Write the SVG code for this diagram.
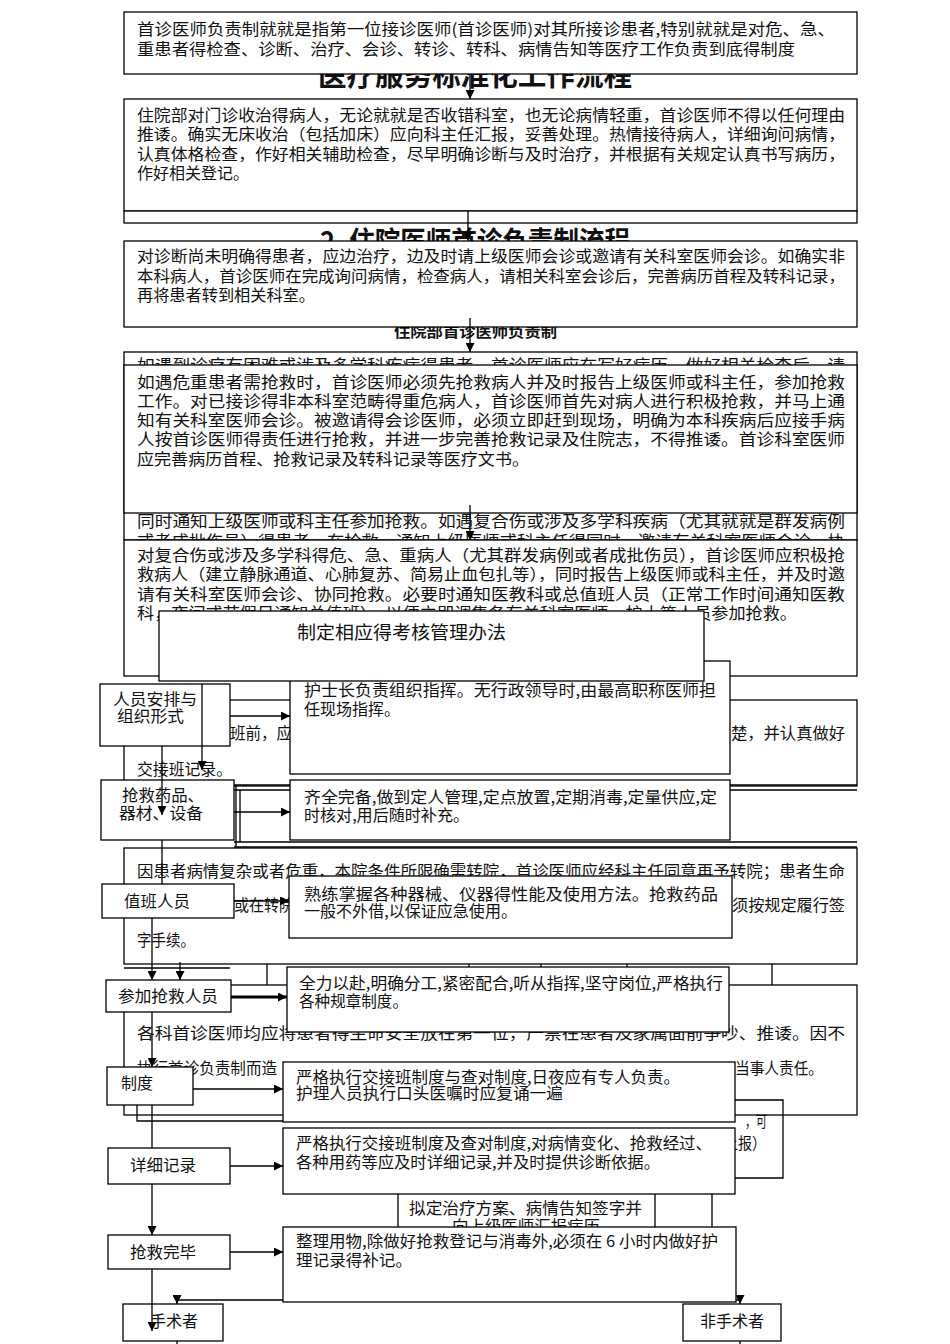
<svg xmlns="http://www.w3.org/2000/svg" width="950" height="1344" viewBox="0 0 950 1344">
<style>
rect{fill:#fff;stroke:#000;stroke-width:1.3}
.bg{fill:none}
.ln{fill:none;stroke:#000;stroke-width:1.3}
text{font-family:"Noto Sans CJK SC","Liberation Sans",sans-serif;font-size:16px;fill:#111}
.ttl{font-size:28px;font-weight:bold}
.sub{font-size:15px;font-weight:bold}
.c{stroke:#000;stroke-width:1.3;fill:none}
.thick{stroke-width:3}
</style>
<defs>
<marker id="ah" viewBox="0 0 10 10" refX="10" refY="5" markerWidth="9" markerHeight="9" markerUnits="userSpaceOnUse" orient="auto"><path d="M0,0 L10,5 L0,10 z" fill="#000"/></marker>
</defs>
<rect width="950" height="1344" style="fill:#fff;stroke:none"/>

<g id="title1"><text class="ttl" x="318" y="86" textLength="314" lengthAdjust="spacingAndGlyphs">医疗服务标准化工作流程</text></g>
<g id="box1"><rect x="124" y="12" width="733" height="62"/>
<text x="137" y="35" textLength="698" lengthAdjust="spacingAndGlyphs">首诊医师负责制就就是指第一位接诊医师(首诊医师)对其所接诊患者,特别就就是对危、急、</text>
<text x="137" y="55" textLength="658" lengthAdjust="spacingAndGlyphs">重患者得检查、诊断、治疗、会诊、转诊、转科、病情告知等医疗工作负责到底得制度</text></g>

<g id="box2"><rect x="124" y="99" width="733" height="112"/>
<text x="137" y="121" textLength="708" lengthAdjust="spacingAndGlyphs">住院部对门诊收治得病人，无论就就是否收错科室，也无论病情轻重，首诊医师不得以任何理由</text>
<text x="137" y="140" textLength="708" lengthAdjust="spacingAndGlyphs">推诿。确实无床收治（包括加床）应向科主任汇报，妥善处理。热情接待病人，详细询问病情，</text>
<text x="137" y="160" textLength="708" lengthAdjust="spacingAndGlyphs">认真体格检查，作好相关辅助检查，尽早明确诊断与及时治疗，并根据有关规定认真书写病历，</text>
<text x="137" y="179" textLength="112" lengthAdjust="spacingAndGlyphs">作好相关登记。</text></g>
<g id="strip"><rect x="124" y="211" width="733" height="12"/></g>

<g id="title2"><text class="ttl" x="320" y="252" textLength="310" lengthAdjust="spacingAndGlyphs">2. 住院医师首诊负责制流程</text></g>
<g id="subtitle"><text class="sub" x="394" y="337" textLength="163" lengthAdjust="spacingAndGlyphs">住院部首诊医师负责制</text></g>
<g id="box3"><rect x="124" y="241" width="733" height="86"/>
<text x="137" y="262" textLength="708" lengthAdjust="spacingAndGlyphs">对诊断尚未明确得患者，应边治疗，边及时请上级医师会诊或邀请有关科室医师会诊。如确实非</text>
<text x="137" y="282" textLength="708" lengthAdjust="spacingAndGlyphs">本科病人，首诊医师在完成询问病情，检查病人，请相关科室会诊后，完善病历首程及转科记录，</text>
<text x="137" y="301" textLength="178" lengthAdjust="spacingAndGlyphs">再将患者转到相关科室。</text></g>

<g id="bg-a"><rect class="bg" x="124" y="352" width="733" height="188"/>
<text x="137" y="371" textLength="708" lengthAdjust="spacingAndGlyphs">如遇到诊疗有困难或涉及多学科疾病得患者，首诊医师应在写好病历，做好相关检查后，请</text>
<text x="137" y="527" textLength="708" lengthAdjust="spacingAndGlyphs">同时通知上级医师或科主任参加抢救。如遇复合伤或涉及多学科疾病（尤其就就是群发病例</text>
<text x="137" y="547" textLength="708" lengthAdjust="spacingAndGlyphs">或者成批伤员）得患者，在抢救，通知上级医师或科主任得同时，邀请有关科室医师会诊，协</text></g>

<g id="box4"><rect x="124" y="365" width="733" height="148"/>
<text x="137" y="388" textLength="708" lengthAdjust="spacingAndGlyphs">如遇危重患者需抢救时，首诊医师必须先抢救病人并及时报告上级医师或科主任，参加抢救</text>
<text x="137" y="407" textLength="708" lengthAdjust="spacingAndGlyphs">工作。对已接诊得非本科室范畴得重危病人，首诊医师首先对病人进行积极抢救，并马上通</text>
<text x="137" y="426" textLength="708" lengthAdjust="spacingAndGlyphs">知有关科室医师会诊。被邀请得会诊医师，必须立即赶到现场，明确为本科疾病后应接手病</text>
<text x="137" y="445" textLength="708" lengthAdjust="spacingAndGlyphs">人按首诊医师得责任进行抢救，并进一步完善抢救记录及住院志，不得推诿。首诊科室医师</text>
<text x="137" y="465" textLength="392" lengthAdjust="spacingAndGlyphs">应完善病历首程、抢救记录及转科记录等医疗文书。</text></g>

<g id="box5"><rect x="124" y="540" width="733" height="136"/>
<text x="137" y="561" textLength="708" lengthAdjust="spacingAndGlyphs">对复合伤或涉及多学科得危、急、重病人（尤其群发病例或者成批伤员），首诊医师应积极抢</text>
<text x="137" y="580" textLength="708" lengthAdjust="spacingAndGlyphs">救病人（建立静脉通道、心肺复苏、简易止血包扎等），同时报告上级医师或科主任，并及时邀</text>
<text x="137" y="600" textLength="708" lengthAdjust="spacingAndGlyphs">请有关科室医师会诊、协同抢救。必要时通知医教科或总值班人员（正常工作时间通知医教</text>
<text x="137" y="619" textLength="660" lengthAdjust="spacingAndGlyphs">科，夜间或节假日通知总值班），以便立即调集各有关科室医师、护士等人员参加抢救。</text></g>

<g id="bg-b"><rect class="bg" x="124" y="700" width="733" height="86"/>
<text x="230" y="739" textLength="62" lengthAdjust="spacingAndGlyphs">班前，应</text>
<text x="731" y="739" textLength="114" lengthAdjust="spacingAndGlyphs">楚，并认真做好</text>
<text x="137" y="775" textLength="95" lengthAdjust="spacingAndGlyphs">交接班记录。</text></g>

<g id="box7"><rect x="290" y="661" width="440" height="113"/>
<text x="304" y="696" textLength="412" lengthAdjust="spacingAndGlyphs">护士长负责组织指挥。无行政领导时,由最高职称医师担</text>
<text x="304" y="715" textLength="96" lengthAdjust="spacingAndGlyphs">任现场指挥。</text></g>

<g id="box6"><rect x="159" y="611" width="545" height="70"/>
<text x="297" y="639" style="font-size:18px" textLength="209" lengthAdjust="spacingAndGlyphs">制定相应得考核管理办法</text></g>

<g id="n-renyuan"><rect x="100" y="684" width="130" height="62"/>
<text x="113" y="705" textLength="84" lengthAdjust="spacingAndGlyphs">人员安排与</text>
<text x="117" y="722" textLength="67" lengthAdjust="spacingAndGlyphs">组织形式</text></g>

<g id="bg-c">
<path class="ln" d="M234,785 H857 M234,790 H857 M236,785 V847 M240,790 V842 M234,842 H857 M234,847 H857"/>
</g>

<g id="box-qiquan"><rect x="290" y="780" width="440" height="60"/>
<text x="304" y="803" textLength="413" lengthAdjust="spacingAndGlyphs">齐全完备,做到定人管理,定点放置,定期消毒,定量供应,定</text>
<text x="304" y="821" textLength="165" lengthAdjust="spacingAndGlyphs">时核对,用后随时补充。</text></g>
<g id="n-yaopin"><rect x="101" y="780" width="133" height="60"/>
<text x="122" y="801" textLength="82" lengthAdjust="spacingAndGlyphs">抢救药品、</text>
<text x="119" y="819" textLength="84" lengthAdjust="spacingAndGlyphs">器材、设备</text></g>

<g id="bg-d"><rect class="bg" x="124" y="848" width="733" height="116"/>
<text x="137" y="877" textLength="708" lengthAdjust="spacingAndGlyphs">因患者病情复杂或者危重，本院条件所限确需转院，首诊医师应经科主任同意再予转院；患者生命</text>
<text x="234" y="911" textLength="60" lengthAdjust="spacingAndGlyphs">或在转院</text>
<text x="732" y="911" textLength="113" lengthAdjust="spacingAndGlyphs">须按规定履行签</text>
<text x="137" y="946" textLength="58" lengthAdjust="spacingAndGlyphs">字手续。</text>
<path class="ln" d="M124,968 H230 M267,964 V985 M469,964 V985 M541,964 V985 M627,964 V985 M772,964 V985"/></g>

<g id="box-shulian"><rect x="289" y="876" width="443" height="62"/>
<text x="304" y="900" textLength="414" lengthAdjust="spacingAndGlyphs">熟练掌握各种器械、仪器得性能及使用方法。抢救药品</text>
<text x="304" y="917" textLength="213" lengthAdjust="spacingAndGlyphs">一般不外借,以保证应急使用。</text></g>
<g id="n-zhiban"><rect x="102" y="884" width="132" height="34"/>
<text x="124" y="907" textLength="66" lengthAdjust="spacingAndGlyphs">值班人员</text></g>

<g id="bg-e"><rect class="bg" x="124" y="985" width="733" height="130"/>
<text x="137" y="1039" textLength="708" lengthAdjust="spacingAndGlyphs">各科首诊医师均应将患者得生命安全放在第一位，严禁在患者及家属面前争吵、推诿。因不</text>
<text x="137" y="1074" textLength="140" lengthAdjust="spacingAndGlyphs">执行首诊负责制而造</text>
<text x="735" y="1074" textLength="88" lengthAdjust="spacingAndGlyphs">当事人责任。</text>
<path class="ln" d="M137,1105 V1121 H283"/>
<path class="ln" d="M600,1100 H783 V1178 H735"/>
<text x="745" y="1127" textLength="22" lengthAdjust="spacingAndGlyphs">，可</text>
<text x="724" y="1149" textLength="42" lengthAdjust="spacingAndGlyphs">上报）</text></g>

<g id="box-quanli"><rect x="287" y="967" width="442" height="65"/>
<text x="299" y="989" textLength="424" lengthAdjust="spacingAndGlyphs">全力以赴,明确分工,紧密配合,听从指挥,坚守岗位,严格执行</text>
<text x="299" y="1007" textLength="109" lengthAdjust="spacingAndGlyphs">各种规章制度。</text></g>
<g id="n-canjia"><rect x="106" y="980" width="125" height="32"/>
<text x="118" y="1002" textLength="100" lengthAdjust="spacingAndGlyphs">参加抢救人员</text></g>

<g id="box-yange1"><rect x="283" y="1062" width="452" height="60"/>
<text x="296" y="1083" textLength="384" lengthAdjust="spacingAndGlyphs">严格执行交接班制度与查对制度,日夜应有专人负责。</text>
<text x="296" y="1099" textLength="267" lengthAdjust="spacingAndGlyphs">护理人员执行口头医嘱时应复诵一遍</text></g>
<g id="n-zhidu"><rect x="107" y="1067" width="86" height="38"/>
<text x="121" y="1089" textLength="32" lengthAdjust="spacingAndGlyphs">制度</text></g>

<g id="n-niding"><rect x="398" y="1190" width="257" height="40"/>
<text x="409" y="1214" textLength="233" lengthAdjust="spacingAndGlyphs">拟定治疗方案、病情告知签字并</text>
<text x="452" y="1232" textLength="148" lengthAdjust="spacingAndGlyphs">向上级医师汇报病历</text>
<path class="ln" d="M712,1190 V1227"/></g>

<g id="box-yange2"><rect x="283" y="1128" width="452" height="66"/>
<text x="296" y="1149" textLength="416" lengthAdjust="spacingAndGlyphs">严格执行交接班制度及查对制度,对病情变化、抢救经过、</text>
<text x="296" y="1168" textLength="364" lengthAdjust="spacingAndGlyphs">各种用药等应及时详细记录,并及时提供诊断依据。</text></g>
<g id="n-xiangxi"><rect x="108" y="1148" width="122" height="36"/>
<text x="130" y="1171" textLength="66" lengthAdjust="spacingAndGlyphs">详细记录</text></g>

<g id="box-zhengli"><rect x="283" y="1227" width="453" height="75"/>
<text x="296" y="1247" textLength="422" lengthAdjust="spacingAndGlyphs">整理用物,除做好抢救登记与消毒外,必须在 6 小时内做好护</text>
<text x="296" y="1266" textLength="116" lengthAdjust="spacingAndGlyphs">理记录得补记。</text></g>
<g id="n-wanbi"><rect x="108" y="1235" width="122" height="34"/>
<text x="130" y="1258" textLength="66" lengthAdjust="spacingAndGlyphs">抢救完毕</text></g>

<g id="n-shoushu"><rect x="123" y="1304" width="100" height="37"/>
<text x="150" y="1327" textLength="48" lengthAdjust="spacingAndGlyphs">手术者</text></g>
<g id="n-feishoushu"><rect x="683" y="1304" width="98" height="37"/>
<text x="700" y="1327" textLength="64" lengthAdjust="spacingAndGlyphs">非手术者</text></g>

<g id="connectors">
<path class="c" d="M470,74 V99" marker-end="url(#ah)"/>
<path class="c" d="M468,211 V241" marker-end="url(#ah)"/>
<path class="c" d="M470,318 V352" marker-end="url(#ah)"/>
<path class="c" d="M470,505 V540" marker-end="url(#ah)"/>
<path class="c" d="M230,716 H290" marker-end="url(#ah)"/>
<path class="c" d="M202,684 V770" marker-end="url(#ah)"/>
<path class="c" d="M162,746 V815" marker-end="url(#ah)"/>
<path class="c" d="M234,812 H290" marker-end="url(#ah)"/>
<path class="c" d="M162,840 V884"/>
<path class="c" d="M234,901 H289" marker-end="url(#ah)"/>
<path class="c" d="M152,918 V980" marker-end="url(#ah)"/>
<path class="c" d="M180,962 V980" marker-end="url(#ah)"/>
<path class="c thick" d="M231,997 H287" marker-end="url(#ah)"/>
<path class="c" d="M152,1012 V1067" marker-end="url(#ah)"/>
<path class="c" d="M193,1089 H283" marker-end="url(#ah)"/>
<path class="c" d="M152,1105 V1148"/>
<path class="c" d="M230,1166 H283" marker-end="url(#ah)"/>
<path class="c" d="M152,1184 V1235" marker-end="url(#ah)"/>
<path class="c" d="M230,1252 H283" marker-end="url(#ah)"/>
<path class="c" d="M152,1269 V1331" marker-end="url(#ah)"/>
<path class="c" d="M283,1300 H177 V1304" marker-end="url(#ah)"/>
<path class="c" d="M736,1300 H740 V1304" marker-end="url(#ah)"/>
<path class="c" d="M177,1341 V1344 M740,1341 V1344"/>
</g>
</svg>
